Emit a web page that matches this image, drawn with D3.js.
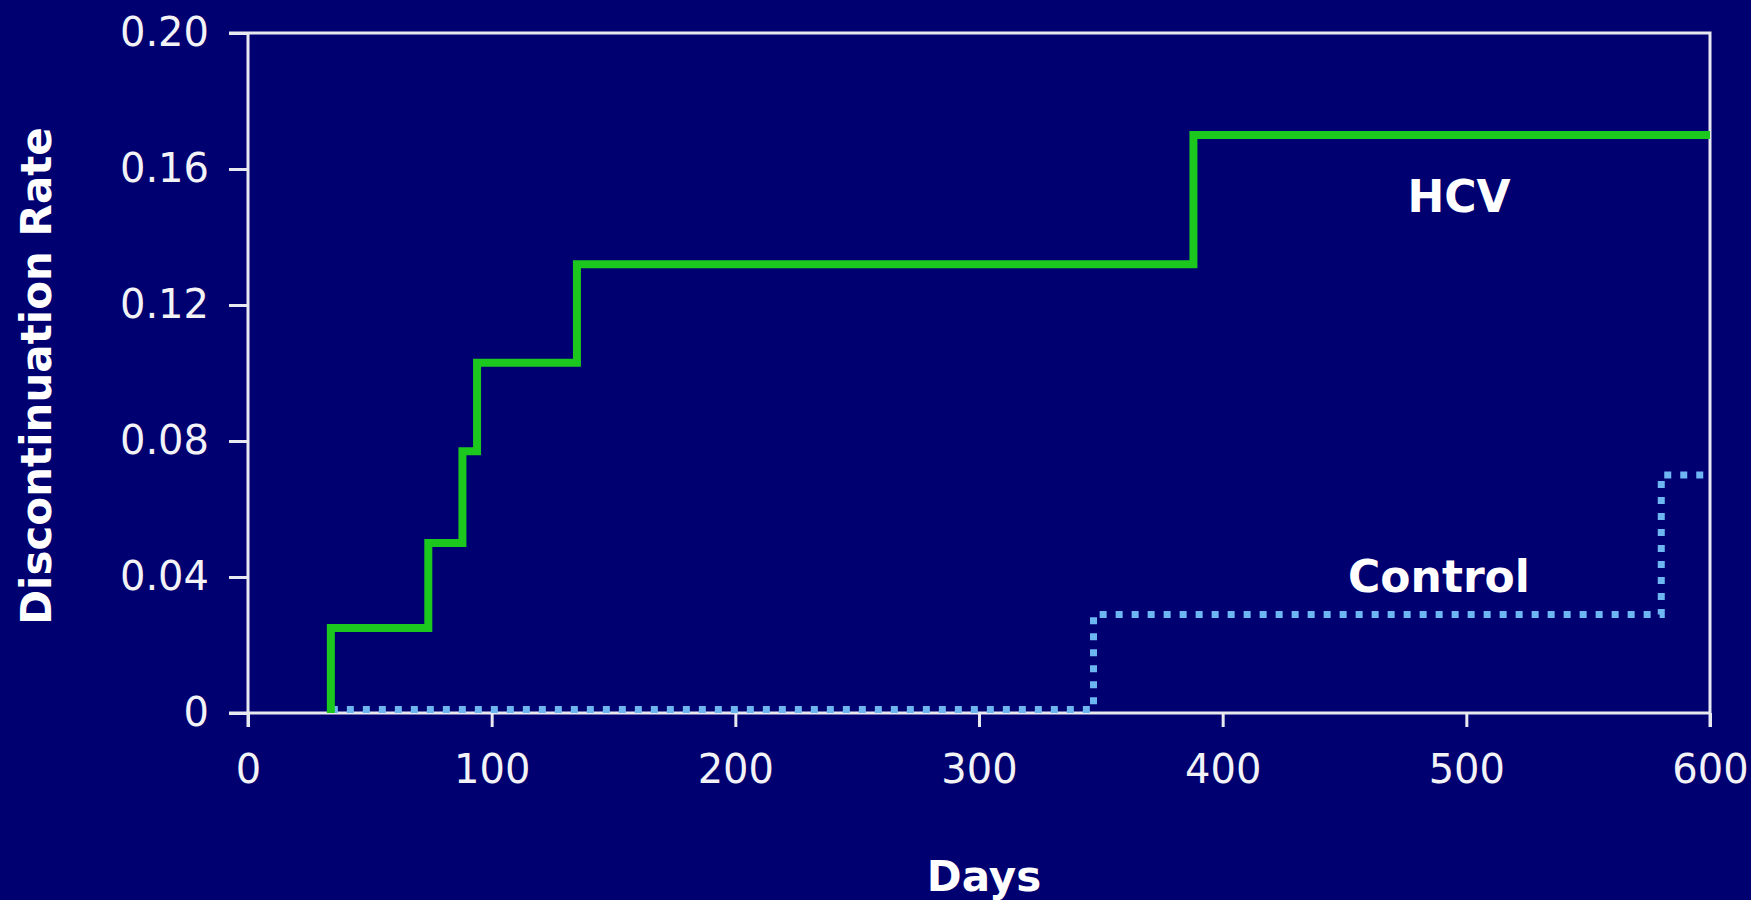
<!DOCTYPE html>
<html>
<head>
<meta charset="utf-8">
<script src="https://cdn.jsdelivr.net/npm/d3@7"></script>
<style>
  html, body { margin: 0; padding: 0; background: #000070; }
  svg { display: block; }
  .tick text { font-family: "DejaVu Sans", sans-serif; font-size: 40px; fill: #f2f2f7; }
  .lbl { font-family: "DejaVu Sans", sans-serif; font-weight: bold; fill: #ffffff; }
</style>
</head>
<body>
<svg id="chart" width="1751" height="900"></svg>
<script>
// Cumulative discontinuation rate by day, HCV vs control
const hcvDays   = [34, 34, 74, 88, 94, 135, 388, 600];
const hcvRates  = [0, 0.025, 0.05, 0.077, 0.103, 0.132, 0.17, 0.17];
const ctrlDays  = [34, 347, 580, 600];
const ctrlRates = [0.001, 0.029, 0.07, 0.07];
const xTicks = [0, 100, 200, 300, 400, 500, 600];
const yTicks = [0, 0.04, 0.08, 0.12, 0.16, 0.20];
const yTickLabels = ["0", "0.04", "0.08", "0.12", "0.16", "0.20"];

const axisColor = "#e8e8f0";
const svg = d3.select("#chart");

const x = d3.scaleLinear().domain([0, 600]).range([248, 1710]);
const y = d3.scaleLinear().domain([0, 0.20]).range([713, 33]);

// plot frame (top and right edges)
svg.append("path")
  .attr("d", `M${x(0) - 19},${y(0.20)}H${x(600)}V${y(0) + 14}`)
  .attr("fill", "none").attr("stroke", axisColor).attr("stroke-width", 3);

// y axis
const yAxis = svg.append("g")
  .attr("transform", `translate(${x(0)},0)`)
  .call(d3.axisLeft(y).tickValues(yTicks)
    .tickFormat((d, i) => yTickLabels[i]).tickSize(19).tickSizeOuter(0).tickPadding(20));
yAxis.selectAll("path, line").attr("stroke", axisColor).attr("stroke-width", 3);

// x axis
const xAxis = svg.append("g")
  .attr("transform", `translate(0,${y(0)})`)
  .call(d3.axisBottom(x).tickValues(xTicks).tickFormat(d3.format("d"))
    .tickSize(14).tickSizeOuter(0).tickPadding(28));
xAxis.selectAll("path, line").attr("stroke", axisColor).attr("stroke-width", 3);
xAxis.select(".domain").attr("d", `M${x(0) - 19},0H${x(600)}`);
yAxis.select(".domain").attr("d", `M0,${y(0.20)}V${y(0) + 14}`);

const line = d3.line().curve(d3.curveStepAfter).x(d => x(d[0])).y(d => y(d[1]));

// control series (dotted)
svg.append("path")
  .datum(d3.zip(ctrlDays, ctrlRates))
  .attr("d", line)
  .attr("fill", "none")
  .attr("stroke", "#6db6f2")
  .attr("stroke-width", 7)
  .attr("stroke-dasharray", "7,9");

// HCV series
svg.append("path")
  .datum(d3.zip(hcvDays, hcvRates))
  .attr("d", line)
  .attr("fill", "none")
  .attr("stroke", "#1cc81e")
  .attr("stroke-width", 8)
  .attr("stroke-linejoin", "miter");

// series labels
svg.append("text").attr("class", "lbl").attr("x", 1459).attr("y", 212)
  .attr("text-anchor", "middle").attr("font-size", 44).text("HCV");
svg.append("text").attr("class", "lbl").attr("x", 1439).attr("y", 592)
  .attr("text-anchor", "middle").attr("font-size", 44).text("Control");

// axis titles
svg.append("text").attr("class", "lbl").attr("x", 984).attr("y", 891)
  .attr("text-anchor", "middle").attr("font-size", 42).text("Days");
svg.append("text").attr("class", "lbl")
  .attr("transform", "translate(51,376) rotate(-90)")
  .attr("text-anchor", "middle").attr("font-size", 42).text("Discontinuation Rate");
</script>
</body>
</html>
